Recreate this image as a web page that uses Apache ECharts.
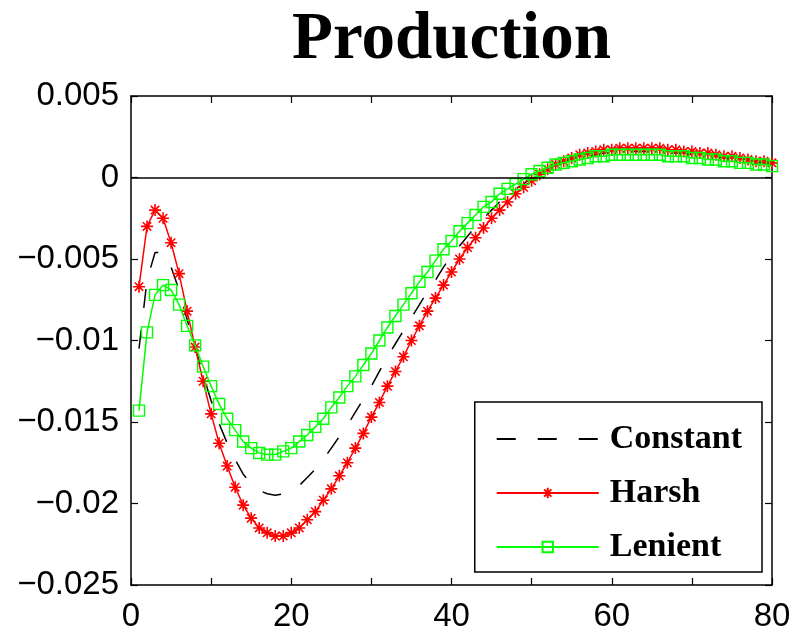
<!DOCTYPE html>
<html>
<head>
<meta charset="utf-8">
<script src="https://cdn.jsdelivr.net/npm/echarts@6/dist/echarts.min.js"></script>
<style>
  html, body { margin: 0; padding: 0; background: #fff; }
  #chart { width: 802px; height: 634px; }
</style>
</head>
<body>
<div id="chart"></div>
<script>
// Impulse response of production, periods 1..80
const periods = Array.from({ length: 80 }, (_, i) => i + 1);

const constantValues = [
  -0.0105, -0.0063, -0.0046, -0.0046, -0.0055, -0.0069, -0.0087, -0.0104, -0.0121, -0.0137,
  -0.0151, -0.0163, -0.0173, -0.0182, -0.0188, -0.0192, -0.0194, -0.0195, -0.0194, -0.0192,
  -0.0189, -0.0184, -0.0179, -0.0173, -0.0166, -0.0159, -0.0152, -0.0144, -0.0136, -0.0128,
  -0.0119, -0.0110, -0.0102, -0.0094, -0.0086, -0.0078, -0.0070, -0.0063, -0.0055, -0.0048,
  -0.0042, -0.0036, -0.0030, -0.0025, -0.0020, -0.0015, -0.0011, -0.0007, -0.0004, 0.0000,
  0.0003, 0.0006, 0.0008, 0.0010, 0.0011, 0.0012, 0.0013, 0.0014, 0.0015, 0.0015,
  0.0016, 0.0016, 0.0016, 0.0016, 0.0016, 0.0016, 0.0015, 0.0015, 0.0015, 0.0014,
  0.0014, 0.0013, 0.0013, 0.0012, 0.0012, 0.0011, 0.0010, 0.0009, 0.0009, 0.0008
];

const harshValues = [
  -0.0067, -0.0030, -0.0020, -0.0025, -0.0040, -0.0059, -0.0082, -0.0104, -0.0125, -0.0145,
  -0.0163, -0.0177, -0.0190, -0.0201, -0.0209, -0.0215, -0.0218, -0.0220, -0.0220, -0.0218,
  -0.0215, -0.0210, -0.0205, -0.0198, -0.0191, -0.0183, -0.0175, -0.0166, -0.0157, -0.0147,
  -0.0138, -0.0128, -0.0119, -0.0110, -0.0100, -0.0091, -0.0082, -0.0074, -0.0066, -0.0058,
  -0.0050, -0.0043, -0.0037, -0.0031, -0.0025, -0.0020, -0.0015, -0.0010, -0.0006, -0.0002,
  0.0002, 0.0005, 0.0008, 0.0010, 0.0012, 0.0014, 0.0015, 0.0016, 0.0017, 0.0017,
  0.0018, 0.0018, 0.0018, 0.0018, 0.0018, 0.0018, 0.0017, 0.0017, 0.0016, 0.0016,
  0.0015, 0.0015, 0.0014, 0.0013, 0.0013, 0.0012, 0.0011, 0.0010, 0.0010, 0.0009
];

const lenientValues = [
  -0.0143, -0.0095, -0.0072, -0.0066, -0.0069, -0.0078, -0.0091, -0.0103, -0.0116, -0.0128,
  -0.0139, -0.0148, -0.0155, -0.0162, -0.0166, -0.0169, -0.0170, -0.0170, -0.0168, -0.0166,
  -0.0162, -0.0158, -0.0153, -0.0148, -0.0141, -0.0135, -0.0128, -0.0122, -0.0115, -0.0108,
  -0.0100, -0.0092, -0.0085, -0.0078, -0.0071, -0.0064, -0.0058, -0.0051, -0.0044, -0.0039,
  -0.0033, -0.0028, -0.0023, -0.0018, -0.0015, -0.0010, -0.0007, -0.0004, -0.0001, 0.0002,
  0.0004, 0.0006, 0.0008, 0.0009, 0.0010, 0.0011, 0.0012, 0.0013, 0.0013, 0.0014,
  0.0014, 0.0014, 0.0014, 0.0014, 0.0014, 0.0014, 0.0013, 0.0013, 0.0013, 0.0012,
  0.0012, 0.0011, 0.0011, 0.0010, 0.0010, 0.0009, 0.0009, 0.0008, 0.0008, 0.0007
];

const seriesNames = ['Constant', 'Harsh', 'Lenient'];
const titleText = 'Production';

const pair = (vals) => periods.map((p, i) => [p, vals[i]]);

// eight-armed asterisk drawn as stroked segments
const asterisk = 'path://M0,-1L0,1M-1,0L1,0M-0.7,-0.7L0.7,0.7M-0.7,0.7L0.7,-0.7';

const tickFont = { fontFamily: 'Liberation Sans', fontSize: 33, color: '#000' };
const axisLine = { show: true, onZero: false, lineStyle: { color: '#000', width: 1.5 } };
const axisTick = { show: true, inside: true, length: 7, lineStyle: { color: '#000', width: 1.2 } };

const fmtY = (v) => {
  if (Math.abs(v) < 1e-12) return '0';
  const s = parseFloat(Math.abs(v).toFixed(3)).toString();
  return (v < 0 ? '\u2212' : '') + s;
};

const chart = echarts.init(document.getElementById('chart'), null, { renderer: 'canvas' });

chart.setOption({
  animation: false,
  backgroundColor: '#fff',
  title: {
    text: titleText,
    left: 287,
    top: 2,
    textStyle: { fontFamily: 'Liberation Serif', fontWeight: 'bold', fontSize: 67, color: '#000' }
  },
  grid: { left: 131, right: 30, top: 96, bottom: 49, containLabel: false },
  legend: {
    orient: 'vertical',
    right: 40,
    top: 402,
    width: 290,
    data: seriesNames,
    backgroundColor: '#fff',
    borderColor: '#000',
    borderWidth: 1.5,
    borderRadius: 0,
    padding: [20, 20, 8, 21],
    itemWidth: 102,
    itemHeight: 13,
    itemGap: 20,
    textStyle: {
      fontFamily: 'Liberation Serif', fontWeight: 'bold', fontSize: 34, color: '#000',
      lineHeight: 34, padding: [0, 0, 0, 6]
    }
  },
  xAxis: [
    {
      type: 'value', position: 'bottom', min: 0, max: 80, interval: 10,
      axisLine, axisTick,
      axisLabel: { ...tickFont, margin: 15, formatter: (v) => (v % 20 === 0 ? String(v) : '') },
      splitLine: { show: false }
    },
    {
      type: 'value', position: 'top', min: 0, max: 80, interval: 10,
      axisLine, axisTick, axisLabel: { show: false }, splitLine: { show: false }
    }
  ],
  yAxis: [
    {
      type: 'value', position: 'left', min: -0.025, max: 0.005, interval: 0.005,
      axisLine, axisTick,
      axisLabel: { ...tickFont, margin: 12, formatter: fmtY },
      splitLine: { show: false }
    },
    {
      type: 'value', position: 'right', min: -0.025, max: 0.005, interval: 0.005,
      axisLine, axisTick, axisLabel: { show: false }, splitLine: { show: false }
    }
  ],
  series: [
    {
      name: seriesNames[0],
      type: 'line',
      data: pair(constantValues),
      symbol: 'none',
      lineStyle: { color: '#000', width: 1.5, type: [19, 22] },
      itemStyle: { color: 'rgba(0,0,0,0)', borderColor: 'rgba(0,0,0,0)' },
      markLine: {
        silent: true,
        symbol: 'none',
        label: { show: false },
        lineStyle: { color: '#000', width: 1.5, type: 'solid' },
        data: [{ yAxis: 0 }]
      },
      z: 2
    },
    {
      name: seriesNames[1],
      type: 'line',
      data: pair(harshValues),
      symbol: asterisk,
      symbolSize: 12,
      showAllSymbol: true,
      lineStyle: { color: '#ff0000', width: 1.5 },
      itemStyle: { color: '#ff0000', borderColor: '#ff0000', borderWidth: 1.6 },
      z: 3
    },
    {
      name: seriesNames[2],
      type: 'line',
      data: pair(lenientValues),
      symbol: 'rect',
      symbolSize: 11,
      showAllSymbol: true,
      lineStyle: { color: '#00ff00', width: 1.5 },
      itemStyle: { color: 'rgba(0,0,0,0)', borderColor: '#00ff00', borderWidth: 1.4 },
      z: 4
    }
  ]
});
</script>
</body>
</html>
